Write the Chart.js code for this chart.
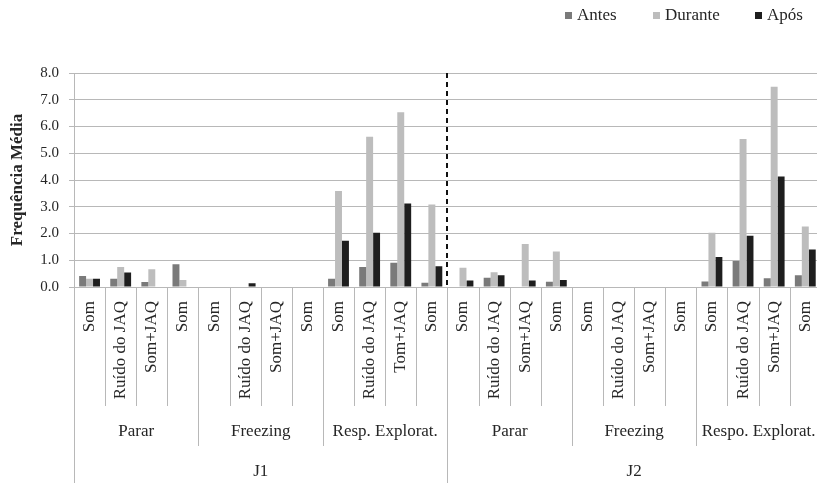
<!DOCTYPE html>
<html><head><meta charset="utf-8">
<script src="https://cdn.jsdelivr.net/npm/chart.js@4/dist/chart.umd.min.js"></script>
<style>
html,body{margin:0;padding:0;background:#fff;overflow:hidden}
#wrap{width:817px;height:483px;overflow:hidden;position:relative;background:#fff}
canvas{display:block}
</style></head>
<body><div id="wrap"><canvas id="c" width="840" height="483"></canvas></div>
<script>
const categories = ['Som','Ruído do JAQ','Som+JAQ','Som','Som','Ruído do JAQ','Som+JAQ','Som','Som','Ruído do JAQ','Tom+JAQ','Som',
                    'Som','Ruído do JAQ','Som+JAQ','Som','Som','Ruído do JAQ','Som+JAQ','Som','Som','Ruído do JAQ','Som+JAQ','Som'];
const groups = ['Parar','Freezing','Resp. Explorat.','Parar','Freezing','Respo. Explorat.'];
const blocks = ['J1','J2'];
const seriesNames = ['Antes','Durante','Após'];
const antes   = [0.41,0.31,0.19,0.85, 0,0,0,0, 0.31,0.75,0.91,0.16, 0,0.35,0,0.20, 0,0,0,0, 0.21,0.97,0.33,0.44];
const durante = [0.31,0.75,0.66,0.26, 0,0,0,0, 3.59,5.62,6.53,3.08, 0.72,0.55,1.61,1.33, 0,0,0,0, 2.03,5.53,7.49,2.26];
const apos    = [0.31,0.54,0,0, 0,0.14,0,0, 1.73,2.03,3.12,0.78, 0.24,0.44,0.24,0.26, 0,0,0,0, 1.12,1.92,4.13,1.40];
const yTickValues = [0,1,2,3,4,5,6,7,8];

const colors = ['#7a7a7a','#bdbdbd','#1e1e1e'];
const FONT = '"Liberation Serif", "Times New Roman", serif';
const TEXT = '#262626';
const LINE = '#b8b8b8';

const multiAxis = {
  id: 'multiAxis',
  afterDraw(chart) {
    const ctx = chart.ctx, x = chart.scales.x, ca = chart.chartArea;
    const n = categories.length;
    const H = chart.height;
    ctx.save();
    ctx.strokeStyle = LINE; ctx.lineWidth = 1;
    for (let i = 0; i <= n; i++) {
      const bx = Math.round(x.getPixelForValue(i - 0.5)) + 0.5;
      const end = (i % 12 === 0) ? H : (i % 4 === 0 ? 446 : 406);
      ctx.beginPath(); ctx.moveTo(bx, ca.bottom); ctx.lineTo(bx, end); ctx.stroke();
    }
    const dx = Math.round(x.getPixelForValue(11.5));
    ctx.strokeStyle = '#111'; ctx.lineWidth = 2; ctx.setLineDash([5, 4]);
    ctx.beginPath(); ctx.moveTo(dx, ca.top); ctx.lineTo(dx, ca.bottom); ctx.stroke();
    ctx.setLineDash([]);
    ctx.fillStyle = TEXT; ctx.font = '17px ' + FONT;
    ctx.textAlign = 'center'; ctx.textBaseline = 'middle';
    groups.forEach((g, k) => {
      const cx = (x.getPixelForValue(4 * k - 0.5) + x.getPixelForValue(4 * k + 3.5)) / 2;
      ctx.fillText(g, cx, 432);
    });
    blocks.forEach((b, k) => {
      const cx = (x.getPixelForValue(12 * k - 0.5) + x.getPixelForValue(12 * k + 11.5)) / 2;
      ctx.fillText(b, cx, 472);
    });
    const lx = [565, 653, 755];
    ctx.textAlign = 'left';
    chart.data.datasets.forEach((ds, k) => {
      ctx.fillStyle = ds.backgroundColor;
      ctx.fillRect(lx[k], 12, 7, 7);
      ctx.fillStyle = TEXT;
      ctx.fillText(ds.label, lx[k] + 12, 16);
    });
    ctx.restore();
  }
};

new Chart(document.getElementById('c'), {
  type: 'bar',
  data: {
    labels: categories,
    datasets: [
      { label: seriesNames[0], data: antes, backgroundColor: colors[0] },
      { label: seriesNames[1], data: durante, backgroundColor: colors[1] },
      { label: seriesNames[2], data: apos, backgroundColor: colors[2] }
    ]
  },
  options: {
    responsive: false,
    animation: false,
    devicePixelRatio: 1,
    layout: { padding: { top: 73, right: 15, left: 0, bottom: 0 } },
    datasets: { bar: { categoryPercentage: 0.67, barPercentage: 1.0, borderWidth: 0 } },
    plugins: { legend: { display: false }, tooltip: { enabled: false } },
    scales: {
      x: {
        type: 'category',
        offset: true,
        grid: { display: false, drawTicks: false },
        border: { display: true, color: LINE },
        ticks: {
          autoSkip: false, minRotation: 90, maxRotation: 90, padding: 14,
          color: TEXT, font: { family: FONT, size: 17 }
        },
        afterFit(s) { s.height = 196; }
      },
      y: {
        min: 0, max: 8,
        afterBuildTicks(s) { s.ticks = yTickValues.map(v => ({ value: v })); },
        grid: { color: LINE, drawTicks: true, tickLength: 5 },
        border: { display: true, color: LINE },
        ticks: {
          padding: 10, color: TEXT, font: { family: FONT, size: 15 },
          callback: v => Number(v).toFixed(1)
        },
        title: {
          display: true, text: 'Frequência Média', color: TEXT,
          font: { family: FONT, size: 17, weight: 'bold' },
          padding: { top: 7, bottom: 0 }
        },
        afterFit(s) { s.width = 74; }
      }
    }
  },
  plugins: [multiAxis]
});
</script>
</body></html>
